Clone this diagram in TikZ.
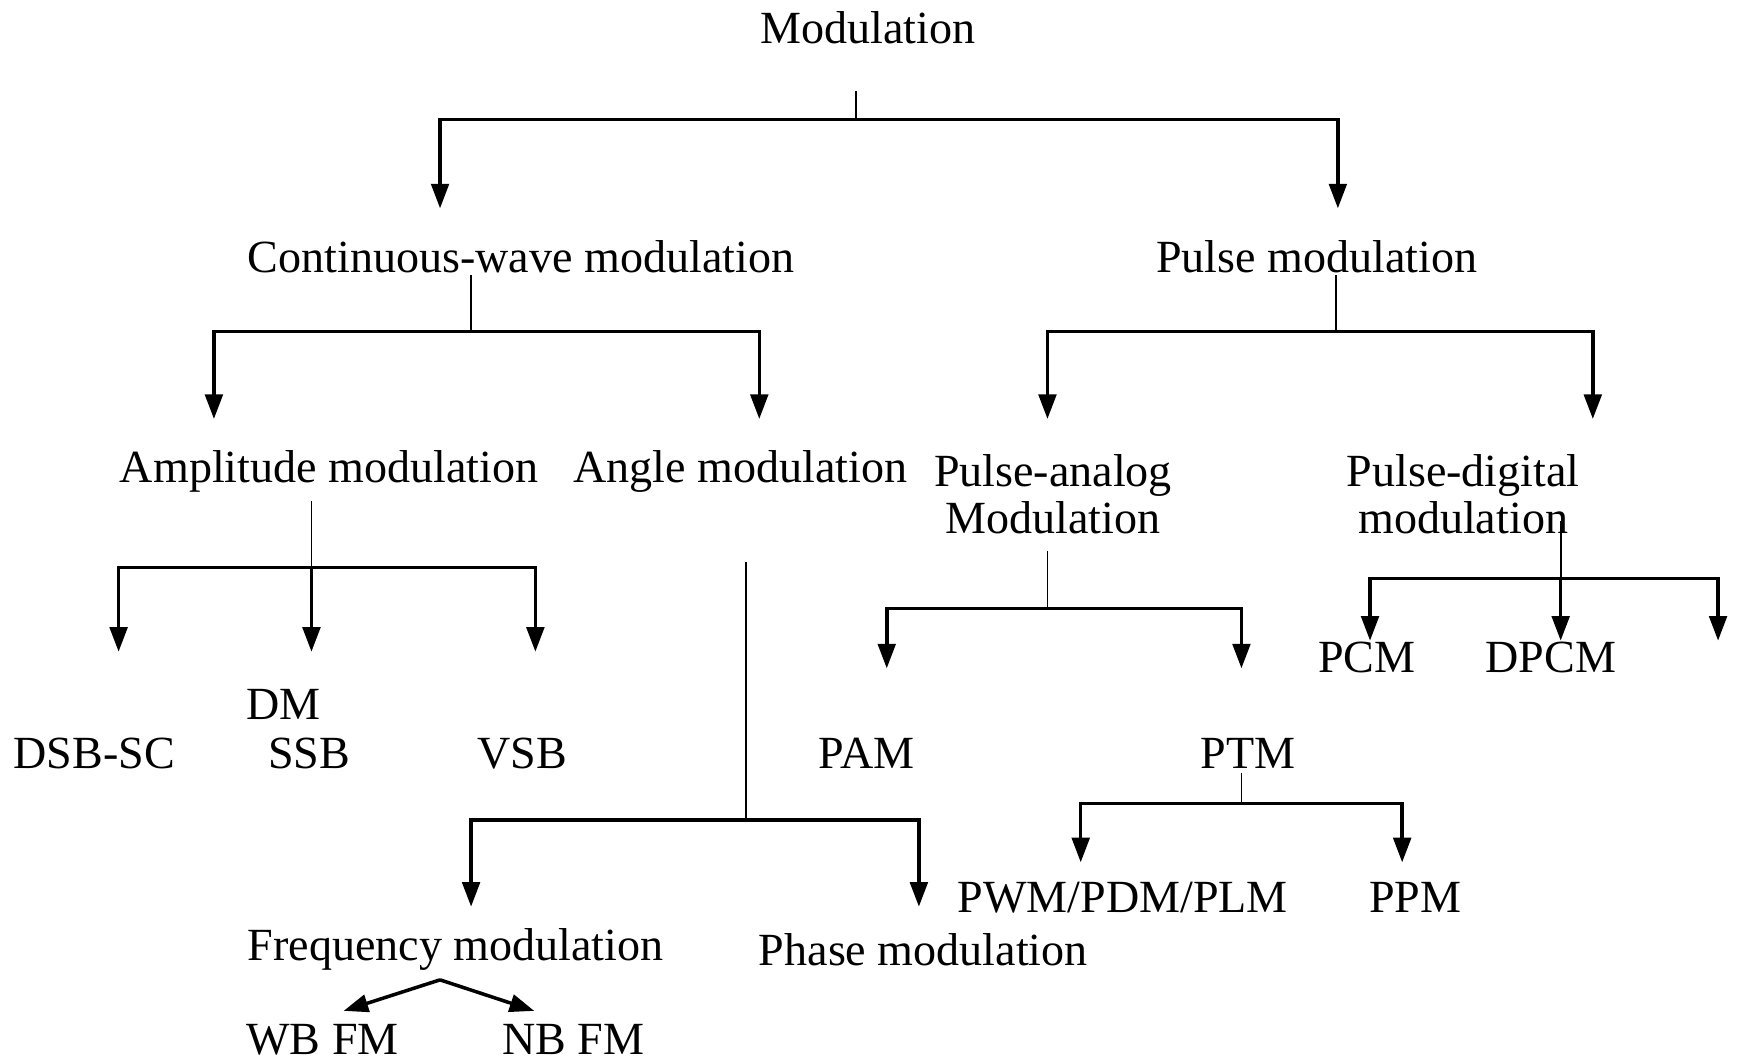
\documentclass[tikz,border=0pt]{standalone}
\usepackage{fontspec}
\setmainfont{Liberation Serif}
\usetikzlibrary{arrows.meta}
\begin{document}
\begin{tikzpicture}[x=0.011084cm,y=-0.011084cm,
        lbl/.style={inner sep=1pt,align=center,font=\fontsize{13.1}{13.5}\selectfont},
        stem/.style={line width=0.5pt},
        arr/.style={line width=1pt,-{Triangle[length=7pt,width=5pt]}}]
        \useasboundingbox (0,0) rectangle (1568,959);
        \draw (783,25) node[lbl](m){Modulation};
        \draw (470,232) node[lbl](cw){Continuous-wave modulation};
        \draw (1188,232) node[lbl](pm){Pulse modulation};
        \draw (297,425) node[lbl](am){Amplitude modulation};
        \draw (668,425) node[lbl](ang){Angle modulation};
        \draw (950,446) node[lbl](pa){Pulse-analog\\Modulation};
        \draw (1320,446) node[lbl](pd){Pulse-digital\\modulation};
        \draw (256,636) node[lbl](dm){DM};
        \draw (85,680) node[lbl](dsb){DSB-SC};
        \draw (279,680) node[lbl](ssb){SSB};
        \draw (471,680) node[lbl](vsb){VSB};
        \draw (782,680) node[lbl](pam){PAM};
        \draw (1126,680) node[lbl](ptm){PTM};
        \draw (1233,593) node[lbl](pcm){PCM};
        \draw (1399,593) node[lbl](dpcm){DPCM};
        \draw (1013,810) node[lbl](pwm){PWM/PDM/PLM};
        \draw (1277,810) node[lbl](ppm){PPM};
        \draw (411,857) node[lbl](fm){Frequency modulation};
        \draw (833,857) node[lbl](phm){Phase modulation};
        \draw (291,938) node[lbl](wb){WB FM};
        \draw (517,938) node[lbl](nb){NB FM};
        % stems and junctions
        \coordinate (s1) at (772,82);   \coordinate (j1) at (772,108);
        \coordinate (s2) at (425,248);  \coordinate (j2) at (425,299);
        \coordinate (s3) at (1205,248); \coordinate (j3) at (1205,299);
        \coordinate (s4) at (281,452);  \coordinate (j4) at (281,512);
        \coordinate (s5) at (673,507);  \coordinate (j5) at (673,740);
        \coordinate (s6) at (945,497);  \coordinate (j6) at (945,549);
        \coordinate (s7) at (1408,470); \coordinate (j7) at (1408,522);
        \coordinate (s8) at (1120,697); \coordinate (j8) at (1120,725);
        \coordinate (j9) at (397,884);
        % arrow tips
        \coordinate (t1) at (397,188);  \coordinate (t2) at (1207,188);
        \coordinate (t3) at (193,378);  \coordinate (t4) at (685,378);
        \coordinate (t5) at (945,378);  \coordinate (t6) at (1437,378);
        \coordinate (t7) at (107,588);  \coordinate (t8) at (281,588);
        \coordinate (t9) at (483,588);
        \coordinate (t10) at (425,818); \coordinate (t11) at (829,818);
        \coordinate (t12) at (800,603); \coordinate (t13) at (1120,603);
        \coordinate (t14) at (1236,578); \coordinate (t15) at (1408,578);
        \coordinate (t16) at (1550,578);
        \coordinate (t17) at (975,778); \coordinate (t18) at (1265,778);
        \coordinate (t19) at (310,912); \coordinate (t20) at (482,912);
        \draw[stem]
          (s1) -- (j1)
          (s2) -- (j2)
          (s3) -- (j3)
          (s4) -- (j4)
          (s5) -- (j5)
          (s6) -- (j6)
          (s7) -- (j7)
          (s8) -- (j8)
        ;
        \draw[arr] (j1) -| (t1);
        \draw[arr] (j1) -| (t2);
        \draw[arr] (j2) -| (t3);
        \draw[arr] (j2) -| (t4);
        \draw[arr] (j3) -| (t5);
        \draw[arr] (j3) -| (t6);
        \draw[arr] (j4) -| (t7);
        \draw[arr] (j4) -| (t8);
        \draw[arr] (j4) -| (t9);
        \draw[arr] (j5) -| (t10);
        \draw[arr] (j5) -| (t11);
        \draw[arr] (j6) -| (t12);
        \draw[arr] (j6) -| (t13);
        \draw[arr] (j7) -| (t14);
        \draw[arr] (j7) -| (t15);
        \draw[arr] (j7) -| (t16);
        \draw[arr] (j8) -| (t17);
        \draw[arr] (j8) -| (t18);
        \draw[arr] (j9) -- (t19);
        \draw[arr] (j9) -- (t20);
      \end{tikzpicture}
\end{document}
